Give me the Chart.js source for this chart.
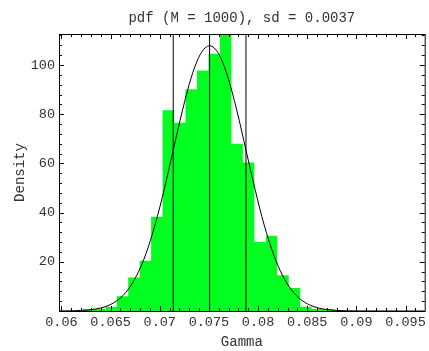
<!DOCTYPE html>
<html>
<head>
<meta charset="utf-8">
<script src="https://cdn.jsdelivr.net/npm/chart.js@4"></script>
<style>
  html, body { margin: 0; padding: 0; background: #fff; }
</style>
</head>
<body>
<canvas id="chart" width="429" height="351"></canvas>
<script>
// histogram bins (left edges + last right edge) and densities
const binEdges = [0.06213, 0.06329, 0.06446, 0.06563, 0.06679, 0.06796, 0.06912, 0.07029,
                  0.07146, 0.07262, 0.07379, 0.07496, 0.07612, 0.07729, 0.07845, 0.07962,
                  0.08079, 0.08195, 0.08312, 0.08429, 0.08545, 0.08662, 0.08779];
const density = [0.85, 0.85, 1.7, 5.95, 13.6, 20.4, 38.3, 81.6, 76.5, 90.1, 97.8, 104.6,
                 116, 68, 60.4, 28, 30.6, 14.5, 9.35, 1.7, 0.85, 0.85];

// fitted pdf curve
const curveX = [0.05975, 0.06027, 0.06120, 0.06212, 0.06305, 0.06397, 0.06490, 0.06582,
                0.06675, 0.06767, 0.06860, 0.06952, 0.07045, 0.07137, 0.07230, 0.07322,
                0.07415, 0.07507, 0.07600, 0.07692, 0.07785, 0.07877, 0.07970, 0.08062,
                0.08155, 0.08247, 0.08340, 0.08432, 0.08525, 0.08617, 0.08710, 0.08802,
                0.08895, 0.08987, 0.0925, 0.09695];
const curveY = [0.01, 0.04, 0.10, 0.24, 0.55, 1.20, 2.46, 4.74,
                8.58, 14.59, 23.32, 35.0, 49.36, 65.4, 81.39, 95.15,
                104.5, 107.8, 104.5, 95.15, 81.39, 65.4, 49.36, 35.0,
                23.32, 14.59, 8.58, 4.74, 2.46, 1.20, 0.55, 0.24,
                0.10, 0.04, 0.003, 0];

// mean - sd, mean, mean + sd
const markers = [0.07137, 0.07507, 0.07877];

const xMin = 0.05975, xMax = 0.09695;
const yMin = 0, yMax = 112.6;
const monoFont = "'Liberation Mono', 'DejaVu Sans Mono', monospace";
const textColor = '#333';

const histPoints = [{x: binEdges[0], y: 0}];
density.forEach((d, i) => histPoints.push({x: binEdges[i], y: d}));
histPoints.push({x: binEdges[binEdges.length - 1], y: 0});

const curvePoints = curveX.map((x, i) => ({x: x, y: curveY[i]}));

const markerSets = markers.map(m => ({
    data: [{x: m, y: yMin}, {x: m, y: yMax}],
    borderColor: '#000',
    borderWidth: 1,
    pointRadius: 0,
    fill: false
}));

// frame with inward ticks on all four sides, like the original plot
const frameTicks = {
    id: 'frameTicks',
    afterDatasetsDraw(chart) {
        const {ctx, chartArea: a, scales: {x, y}} = chart;
        ctx.save();
        ctx.strokeStyle = '#000';
        ctx.lineWidth = 1;
        ctx.beginPath();
        for (let i = 0; ; i++) {
            const v = 0.06 + i * 0.001;
            if (v > xMax) break;
            const px = Math.round(x.getPixelForValue(v)) + 0.5;
            const len = i % 5 === 0 ? 5 : 3;
            ctx.moveTo(px, a.bottom); ctx.lineTo(px, a.bottom - len);
            ctx.moveTo(px, a.top); ctx.lineTo(px, a.top + len);
        }
        for (let i = 0; ; i++) {
            const v = i * 4;
            if (v > yMax) break;
            const py = Math.round(y.getPixelForValue(v)) + 0.5;
            const len = i % 5 === 0 ? 5 : 3;
            ctx.moveTo(a.left, py); ctx.lineTo(a.left + len, py);
            ctx.moveTo(a.right, py); ctx.lineTo(a.right - len, py);
        }
        ctx.stroke();
        ctx.strokeRect(a.left + 0.5, a.top + 0.5, a.right - a.left, a.bottom - a.top);
        ctx.restore();
    }
};

new Chart(document.getElementById('chart'), {
    type: 'line',
    data: {
        datasets: [
            {
                data: curvePoints,
                borderColor: '#000',
                borderWidth: 1,
                pointRadius: 0,
                cubicInterpolationMode: 'monotone',
                fill: false
            },
            ...markerSets,
            {
                data: histPoints,
                stepped: 'before',
                borderWidth: 0,
                borderColor: 'rgb(0,255,30)',
                backgroundColor: 'rgb(0,255,30)',
                pointRadius: 0,
                fill: 'origin'
            }
        ]
    },
    options: {
        responsive: false,
        devicePixelRatio: 1,
        animation: false,
        layout: { padding: { left: 0, right: 1, top: 0, bottom: 0 } },
        plugins: {
            legend: { display: false },
            tooltip: { enabled: false },
            title: {
                display: true,
                fullSize: false,
                text: 'pdf (M = 1000), sd = 0.0037',
                color: textColor,
                font: { family: monoFont, size: 14, weight: 'normal' },
                padding: { top: 10, bottom: 7.2 }
            }
        },
        scales: {
            x: {
                type: 'linear',
                min: xMin,
                max: xMax,
                grid: { display: false, drawTicks: false },
                border: { display: false },
                afterFit: s => { s.height = 40; },
                ticks: {
                    stepSize: 0.005,
                    includeBounds: false,
                    autoSkip: false,
                    maxRotation: 0,
                    padding: 3,
                    color: textColor,
                    font: { family: monoFont, size: 13.5 },
                    callback: v => String(+v.toFixed(3))
                },
                title: {
                    display: true,
                    text: 'Gamma',
                    color: textColor,
                    font: { family: monoFont, size: 14 },
                    padding: { top: 0, bottom: 0 }
                }
            },
            y: {
                min: yMin,
                max: yMax,
                grid: { display: false, drawTicks: false },
                border: { display: false },
                afterFit: s => { s.width = 59; },
                ticks: {
                    stepSize: 20,
                    includeBounds: false,
                    padding: 4,
                    color: textColor,
                    font: { family: monoFont, size: 13.5 },
                    callback: v => v === 0 ? '' : String(v)
                },
                title: {
                    display: true,
                    text: 'Density',
                    color: textColor,
                    font: { family: monoFont, size: 14 },
                    padding: { top: 12, bottom: 0 }
                }
            }
        }
    },
    plugins: [frameTicks]
});
</script>
</body>
</html>
